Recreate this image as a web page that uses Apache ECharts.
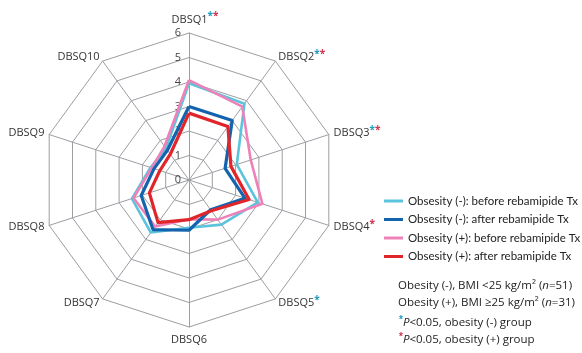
<!DOCTYPE html>
<html>
<head>
<meta charset="utf-8">
<script src="https://cdn.jsdelivr.net/npm/echarts@6/dist/echarts.min.js"></script>
<style>
  html, body { margin: 0; padding: 0; background: #fff; }
  #chart { width: 582px; height: 353px; }
</style>
</head>
<body>
<div id="chart"></div>
<script>
// DBSQ items, clockwise from the top
const categories = ['DBSQ1', 'DBSQ2', 'DBSQ3', 'DBSQ4', 'DBSQ5', 'DBSQ6', 'DBSQ7', 'DBSQ8', 'DBSQ9', 'DBSQ10'];
// significance markers per item
const sigNonObese = [true, true, true, false, true, false, false, false, false, false];
const sigObese    = [true, true, true, true, false, false, false, false, false, false];

// mean scores per item
const nonObeseBefore = [3.95, 3.85, 2.05, 2.95, 2.25, 1.95, 2.65, 2.45, 1.65, 1.6];
const nonObeseAfter  = [3.0, 3.0, 1.55, 2.4, 1.5, 2.05, 2.5, 2.05, 1.5, 1.5];
const obeseBefore    = [4.08, 3.7, 2.65, 3.15, 2.0, 1.6, 2.35, 2.38, 1.6, 1.7];
const obeseAfter     = [2.73, 2.7, 1.8, 2.58, 1.55, 1.62, 2.15, 1.7, 1.25, 1.3];

const seriesNames = [
  'Obsesity (-): before rebamipide Tx',
  'Obsesity (-): after rebamipide Tx',
  'Obsesity (+): before rebamipide Tx',
  'Obsesity (+): after rebamipide Tx'
];

const scaleMax = 6;

// ECharts lays radar indicators out counter-clockwise; reorder so items run clockwise.
const order = [0].concat(categories.slice(1).map((_, i) => categories.length - 1 - i));
const reorder = arr => order.map(i => arr[i]);

const CYAN = '#5cc3dc', BLUE = '#1463ae', PINK = '#ee82b8', RED = '#e0262b';
const FONT = 'Open Sans';

const indicator = reorder(categories).map((name, k) => {
  const ind = { name: name, min: 0, max: scaleMax };
  if (k === 0) {
    ind.axisLabel = {
      show: true, color: '#444', fontSize: 11, fontFamily: FONT, margin: 8,
      showMinLabel: true, showMaxLabel: true
    };
  }
  return ind;
});

const chart = echarts.init(document.getElementById('chart'), null, { renderer: 'canvas' });

const italic = { fontStyle: 'italic', fontSize: 11.5, fontFamily: FONT, fill: '#222' };

chart.setOption({
  animation: false,
  backgroundColor: '#ffffff',
  legend: {
    orient: 'vertical',
    left: 379,
    top: 189,
    icon: 'rect',
    itemWidth: 19,
    itemHeight: 3,
    itemGap: 4.5,
    textStyle: { fontSize: 11.5, color: '#222', fontFamily: 'Lato', lineHeight: 14 },
    data: seriesNames
  },
  radar: {
    center: [189, 180],
    radius: 147,
    startAngle: 90,
    shape: 'polygon',
    splitNumber: 6,
    nameGap: 5,
    indicator: indicator,
    axisName: {
      color: '#333',
      fontSize: 11,
      fontFamily: FONT,
      lineHeight: 16,
      formatter: function (name) {
        const i = categories.indexOf(name);
        let stars = '';
        if (sigNonObese[i]) stars += '{c|*}';
        if (sigObese[i]) stars += '{r|*}';
        const lead = (i === 0) ? '{sp|}' : '';
        return lead + name + stars;
      },
      rich: {
        c: { color: '#1f9cc2', fontSize: 10, fontWeight: 'bold', verticalAlign: 'top', lineHeight: 9, fontFamily: FONT },
        r: { color: '#d6334c', fontSize: 10, fontWeight: 'bold', verticalAlign: 'top', lineHeight: 9, fontFamily: FONT },
        sp: { width: 12 }
      }
    },
    splitLine: { lineStyle: { color: '#9b9ea3', width: 1 } },
    splitArea: { show: false },
    axisLine: { lineStyle: { color: '#9b9ea3', width: 1 } },
    axisTick: { show: false }
  },
  series: [{
    type: 'radar',
    symbol: 'none',
    data: [
      { name: seriesNames[0], value: reorder(nonObeseBefore), lineStyle: { color: CYAN, width: 2.6 }, itemStyle: { color: CYAN } },
      { name: seriesNames[2], value: reorder(obeseBefore), lineStyle: { color: PINK, width: 2.6 }, itemStyle: { color: PINK } },
      { name: seriesNames[1], value: reorder(nonObeseAfter), lineStyle: { color: BLUE, width: 3.2 }, itemStyle: { color: BLUE } },
      { name: seriesNames[3], value: reorder(obeseAfter), lineStyle: { color: RED, width: 3.2 }, itemStyle: { color: RED } }
    ]
  }],
  graphic: [
    {
      type: 'text', left: 398, top: 280,
      style: {
        text: 'Obesity (-), BMI <25 kg/m² ({i|n}=51)',
        font: '11.5px "' + FONT + '"', fill: '#222',
        rich: { i: italic }
      }
    },
    {
      type: 'text', left: 398, top: 297,
      style: {
        text: 'Obesity (+), BMI ≥25 kg/m² ({i|n}=31)',
        font: '11.5px "' + FONT + '"', fill: '#222',
        rich: { i: italic }
      }
    },
    {
      type: 'text', left: 399, top: 315,
      style: {
        text: '{s|*}{i|P}<0.05, obesity (-) group',
        font: '11.5px "' + FONT + '"', fill: '#222', lineHeight: 16,
        rich: {
          s: { fill: '#1f9cc2', fontSize: 10, fontWeight: 'bold', verticalAlign: 'top', lineHeight: 8 },
          i: italic
        }
      }
    },
    {
      type: 'text', left: 399, top: 332,
      style: {
        text: '{s|*}{i|P}<0.05, obesity (+) group',
        font: '11.5px "' + FONT + '"', fill: '#222', lineHeight: 16,
        rich: {
          s: { fill: '#d6334c', fontSize: 10, fontWeight: 'bold', verticalAlign: 'top', lineHeight: 8 },
          i: italic
        }
      }
    }
  ]
});
</script>
</body>
</html>
